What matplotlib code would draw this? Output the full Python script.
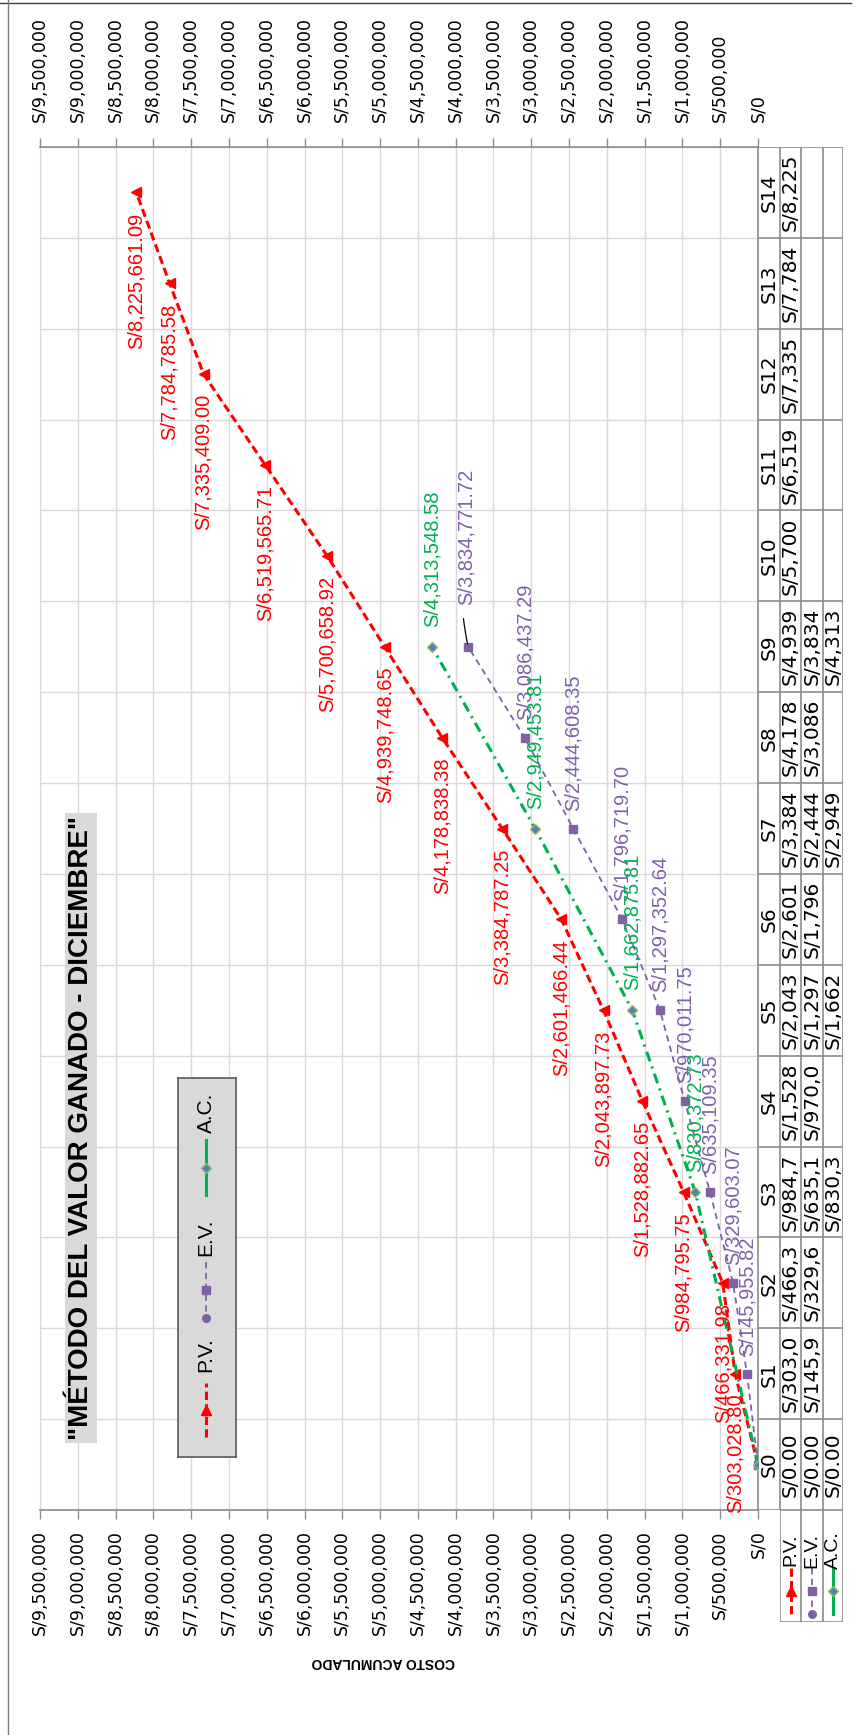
import matplotlib.pyplot as plt
from matplotlib.lines import Line2D
from matplotlib.patches import Rectangle
import numpy as np

# Curva S - valor ganado (semanas S0..S14)
semanas = ['S0', 'S1', 'S2', 'S3', 'S4', 'S5', 'S6', 'S7', 'S8', 'S9',
           'S10', 'S11', 'S12', 'S13', 'S14']
pv = [0.00, 303028.80, 466331.98, 984795.75, 1528882.65, 2043897.73,
      2601466.44, 3384787.25, 4178838.38, 4939748.65, 5700658.92,
      6519565.71, 7335409.00, 7784785.58, 8225661.09]
ev = [0.00, 145955.82, 329603.07, 635109.35, 970011.75, 1297352.64,
      1796719.70, 2444608.35, 3086437.29, 3834771.72]
ac_semanas = [0, 3, 5, 7, 9]
ac = [0.00, 830372.73, 1662875.81, 2949453.81, 4313548.58]

W, H = 861, 1735
ROJO = '#ff0000'
MORADO = '#7f62a6'
VERDE = '#00b050'
GRIS_GRID = '#d9d9d9'
GRIS_EJE = '#8c8c8c'
FUENTE = ['Liberation Sans', 'DejaVu Sans']
ANCHA = ['DejaVu Sans']


def px(x0, y0, x1, y1):
    # caja en pixeles (origen arriba-izquierda) -> coordenadas de figura
    return [x0 / W, 1 - y1 / H, (x1 - x0) / W, (y1 - y0) / H]


def soles(v):
    return f"S/{v:,.2f}"


fig = plt.figure(figsize=(W / 100, H / 100), dpi=100)
fig.patch.set_facecolor('white')

# ---- area del grafico (rotada: costo en horizontal, semanas en vertical)
ax = fig.add_axes(px(40, 147, 758, 1510))
ax.set_xlim(9.5e6, 0)
ax.set_ylim(-0.5, len(semanas) - 0.5)

xt = np.arange(0, 9.5e6 + 1, 5e5)
xl = [f"S/{int(v):,}" for v in xt]
ax.set_xticks(xt)
ax.set_xticklabels(xl, rotation=90, fontsize=12.5, family=ANCHA)
ax.tick_params(axis='x', bottom=True, top=False, labelbottom=True,
               labeltop=False, direction='out', length=6.5, width=1,
               color=GRIS_EJE, pad=8)
ax.set_yticks([])
ax.set_yticks(np.arange(-0.5, len(semanas), 1), minor=True)
ax.tick_params(axis='y', which='both', length=0)
ax.grid(which='major', axis='x', color=GRIS_GRID, lw=1)
ax.grid(which='minor', axis='y', color=GRIS_GRID, lw=1)
ax.set_axisbelow(True)
ax.spines['left'].set_color(GRIS_GRID)
for s in ['top', 'bottom', 'right']:
    ax.spines[s].set_color(GRIS_EJE)
    ax.spines[s].set_linewidth(1.2)

ax_top = ax.twiny()
ax_top.set_xlim(ax.get_xlim())
ax_top.set_xticks(xt)
ax_top.set_xticklabels(xl, rotation=90, fontsize=12.5, family=ANCHA)
ax_top.tick_params(axis='x', top=True, labeltop=True, bottom=False,
                   labelbottom=False, direction='out', length=6.5, width=1,
                   color=GRIS_EJE, pad=11.5)
for s in ax_top.spines.values():
    s.set_visible(False)

idx = np.arange(len(semanas))

ax.plot(pv, idx[:len(pv)], color=ROJO, lw=2.2, ls=(0, (2.7, 1.4)),
        marker='<', ms=6.5, zorder=4)
ax.plot(ev, idx[:len(ev)], color=MORADO, lw=1.3, ls=(0, (3.5, 2.5)),
        marker='s', ms=6, zorder=4)
ax.plot(ac, ac_semanas, color=VERDE, lw=2.2, ls=(0, (3.3, 1.8, 0.7, 1.8)),
        marker='D', ms=5.5, mfc='#4f81bd', mec='#9bbb59', mew=1, zorder=5)

# etiquetas de datos
etq = dict(rotation=90, ha='center', fontsize=14.5, family=FUENTE, zorder=6,
           textcoords='offset pixels')
for i, v in enumerate(pv):
    if i == 0:
        continue
    ax.annotate(soles(v), (v, i), xytext=(0, -20), va='top', color=ROJO,
                **etq)
for i, v in enumerate(ev):
    if i == 0:
        continue
    if i == len(ev) - 1:
        ax.annotate(soles(v), (v, i), xytext=(-2, 42), va='bottom',
                    color=MORADO,
                    arrowprops=dict(arrowstyle='-', color='black', lw=0.9,
                                    shrinkA=8, shrinkB=2,
                                    connectionstyle='arc3,rad=0.1'),
                    **etq)
        continue
    ax.annotate(soles(v), (v, i), xytext=(0, 18), va='bottom', color=MORADO,
                **etq)
for s, v in zip(ac_semanas, ac):
    if s == 0:
        continue
    ax.annotate(soles(v), (v, s), xytext=(0, 20), va='bottom', color=VERDE,
                **etq)

# ---- tabla de datos (a la derecha)
filas = [758, 780, 801, 823, 843]
tax = fig.add_axes(px(758, 147, 843, 1510))
tax.set_xlim(filas[0], filas[-1])
tax.set_ylim(-0.5, len(semanas) - 0.5)
tax.axis('off')
tax.hlines(np.arange(-0.5, len(semanas), 1), filas[0], filas[-1],
           color=GRIS_EJE, lw=1.2)
tax.vlines(filas[1:], -0.5, len(semanas) - 0.5, color=GRIS_EJE, lw=1.2)
cx = [(a + b) / 2 for a, b in zip(filas[:-1], filas[1:])]
celda = dict(rotation=90, ha='center', va='center', fontsize=14.5,
             family=ANCHA, color='black')
for i, s in enumerate(semanas):
    tax.text(cx[0], i, s, **celda)
for i, v in enumerate(pv):
    tax.text(cx[1], i, soles(v)[:7], **celda)
for i, v in enumerate(ev):
    tax.text(cx[2], i, soles(v)[:7], **celda)
for s, v in zip(ac_semanas, ac):
    tax.text(cx[3], s, soles(v)[:7], **celda)

# cabecera de filas con sus claves
lax = fig.add_axes(px(780, 1510, 843, 1622))
lax.set_xlim(780, 843)
lax.set_ylim(1622, 1510)
lax.axis('off')
lax.add_patch(Rectangle((780, 1510), 63, 112, fill=False, ec=GRIS_EJE,
                        lw=1.2))
lax.vlines([801, 823], 1510, 1622, color=GRIS_EJE, lw=1.2)


def clave(a, x, y0, y1, serie):
    ym = (y0 + y1) / 2
    if serie == 'pv':
        a.plot([x, x], [y0, y1], color=ROJO, lw=2.2, ls=(0, (2.7, 1.4)))
        a.plot([x], [ym], color=ROJO, marker='^', ms=6.5)
    elif serie == 'ev':
        a.plot([x, x], [y0, y1], color=MORADO, lw=1.3, ls=(0, (3.5, 2.5)))
        a.plot([x], [ym], color=MORADO, marker='s', ms=6)
        a.plot([x], [y1], color=MORADO, marker='o', ms=5.5)
    else:
        a.plot([x, x], [y0, y1], color=VERDE, lw=2.2)
        a.plot([x], [ym], marker='D', ms=5.5, mfc='#4f81bd', mec='#9bbb59',
               mew=1)


nombres = ['P.V.', 'E.V.', 'A.C.']
for k, (nom, ser) in enumerate(zip(nombres, ['pv', 'ev', 'ac'])):
    x = cx[k + 1]
    lax.text(x, 1550, nom, rotation=90, ha='center', va='center',
             fontsize=14, family=FUENTE)
    clave(lax, x, 1568, 1614, ser)

# ---- leyenda
lgx = fig.add_axes(px(178, 1078, 236, 1457))
lgx.set_xlim(178, 236)
lgx.set_ylim(1457, 1078)
lgx.set_xticks([])
lgx.set_yticks([])
lgx.set_facecolor('#d9d9d9')
for s in lgx.spines.values():
    s.set_color('#595959')
    s.set_linewidth(1.2)
for nom, ser, yt, y0, y1 in [('P.V.', 'pv', 1355, 1437, 1383),
                             ('E.V.', 'ev', 1237, 1262, 1318),
                             ('A.C.', 'ac', 1113, 1140, 1195)]:
    lgx.text(206, yt, nom, rotation=90, ha='center', va='center',
             fontsize=15, family=FUENTE)
    clave(lgx, 206, y0, y1, ser)

# ---- titulo
fig.text(81 / W, 1 - 1128 / H, '"MÉTODO DEL VALOR GANADO - DICIEMBRE"',
         rotation=90, ha='center', va='center', fontsize=20,
         fontweight='bold', family=FUENTE,
         bbox=dict(boxstyle='square,pad=0.12', fc='#d9d9d9', ec='none'))

# titulo del eje de costos
fig.text(383 / W, 1 - 1662 / H, 'COSTO ACUMULADO', rotation=180,
         ha='center', va='center', fontsize=10, fontweight='bold',
         family=['DejaVu Sans Condensed', 'Liberation Sans Narrow',
                 'Liberation Sans'])

# borde del area del grafico
fig.add_artist(Line2D([0, 851 / W], [1 - 3 / H] * 2, transform=fig.transFigure,
                      color='#404040', lw=1))
fig.add_artist(Line2D([8 / W] * 2, [0, 1], transform=fig.transFigure,
                      color='#7f7f7f', lw=1))

plt.savefig('out.png', dpi=100)
